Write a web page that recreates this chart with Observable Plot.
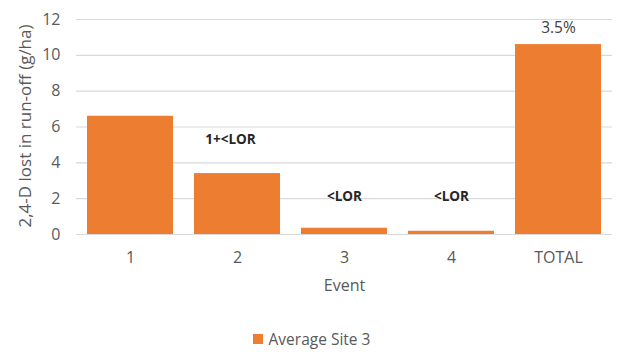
<!DOCTYPE html>
<html>
<head>
<meta charset="utf-8">
<script src="https://cdn.jsdelivr.net/npm/d3@7"></script>
<script src="https://cdn.jsdelivr.net/npm/@observablehq/plot@0.6"></script>
<style>
  body { margin: 0; background: #fff; font-family: "Open Sans", sans-serif; }
  #chart { width: 621px; }
  .legend { display: flex; justify-content: center; align-items: center; gap: 6px;
            font-size: 15.5px; color: #595959; margin-top: 18px; padding-left: 2px; }
  .legend .swatch { width: 10px; height: 10px; background: #ED7D31; }
</style>
</head>
<body>
<div id="chart"></div>
<script>
// Run-off events and 2,4-D loss (g/ha), average of Site 3
const events = ["1", "2", "3", "4", "TOTAL"];
const loss = [6.6, 3.4, 0.35, 0.18, 10.6];

// Annotations above the bars
const noteEvents = ["3", "4"];
const noteTexts = ["<LOR", "<LOR"];
const noteLevels = [2.1, 2.1];

const firstNoteEvent = "2";
const firstNoteText = "1+<LOR";
const firstNoteLevel = 5.3;

const totalEvent = "TOTAL";
const totalNote = "3.5%";
const totalLevel = 11.5;

const yTicks = [0, 2, 4, 6, 8, 10, 12];
const yTitle = "2,4-D lost in run-off (g/ha)";
const xTitle = "Event";
const orange = "#ED7D31";
const grey = "#595959";

const bars = events.map((e, i) => ({event: e, value: loss[i]}));
const notes = noteEvents.map((e, i) => ({event: e, text: noteTexts[i], y: noteLevels[i]}));

const noteStyle = {x: "event", y: "y", text: "text", fontWeight: "bold", fontSize: 13.5, fill: "#262626"};

const plot = Plot.plot({
  width: 621,
  height: 310,
  marginTop: 19,
  marginBottom: 76,
  marginLeft: 76,
  marginRight: 9,
  style: {fontFamily: "Open Sans, sans-serif", fontSize: "16px", color: grey, background: "#fff"},
  x: {domain: events, paddingInner: 0.2, paddingOuter: 0.1, label: null},
  y: {domain: [0, 12], ticks: yTicks, label: null},
  marks: [
    Plot.gridY(yTicks, {stroke: "#D9D9D9", strokeOpacity: 1, strokeWidth: 1.2}),
    Plot.axisX({tickSize: 0, tickPadding: 17, fontSize: 16}),
    Plot.axisY({ticks: yTicks, tickSize: 0, tickPadding: 16, fontSize: 16, label: null}),
    Plot.text([yTitle], {frameAnchor: "left", textAnchor: "middle", rotate: -90,
      dx: -51, dy: -1, fontSize: 17, fill: grey}),
    Plot.barY(bars, {x: "event", y: "value", fill: orange}),
    Plot.text([{event: firstNoteEvent, text: firstNoteText, y: firstNoteLevel}], {...noteStyle, dx: -7}),
    Plot.text(notes, noteStyle),
    Plot.text([{event: totalEvent, y: totalLevel, text: totalNote}],
      {x: "event", y: "y", text: "text", fontSize: 15.5, fill: "#404040"}),
    Plot.text([xTitle], {frameAnchor: "bottom", dy: 56, fontSize: 16, fill: grey})
  ]
});

document.getElementById("chart").appendChild(plot);

const legend = document.createElement("div");
legend.className = "legend";
legend.innerHTML = `<span class="swatch"></span><span>Average Site 3</span>`;
document.getElementById("chart").appendChild(legend);
</script>
</body>
</html>
